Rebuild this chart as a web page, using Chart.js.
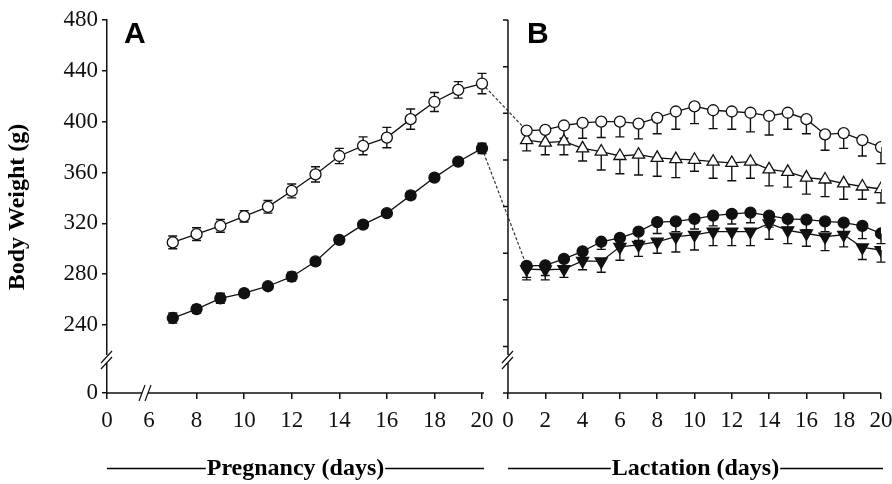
<!DOCTYPE html>
<html>
<head>
<meta charset="utf-8">
<script src="https://cdn.jsdelivr.net/npm/chart.js@4.4.1/dist/chart.umd.min.js"></script>
<style>body{margin:0;background:#fff}</style>
</head>
<body>
<canvas id="chart" width="892" height="484"></canvas>
<script>
// pregnancy (panel A)
const pregDays = [7, 8, 9, 10, 11, 12, 13, 14, 15, 16, 17, 18, 19, 20];
const pregOpen = [305, 311.5, 318, 325.5, 333, 345.5, 358.5, 373, 381, 387.5, 402, 415.5, 425, 430];
const pregOpenErr = [5, 5, 5, 4.5, 5, 5.5, 6, 6, 7, 8, 8, 7.5, 6.5, 8];
const pregFilled = [245.5, 252.5, 261, 265, 270.5, 278, 290, 307, 319, 328, 342, 356, 368.5, 379];
const pregFilledErr = [4, 3, 4, 3, 2.5, 3.5, 3, 2.5, 2.5, 2.5, 3, 2.5, 2.5, 4];

// lactation (panel B)
const lactDays = [1, 2, 3, 4, 5, 6, 7, 8, 9, 10, 11, 12, 13, 14, 15, 16, 17, 18, 19, 20];
const lactOpen = [393, 393.5, 397, 399, 400, 400, 398.5, 403, 408, 412, 409, 408, 407, 404.5, 407, 402, 390, 391, 385.5, 380];
const lactOpenErr = [10, 10, 10, 12, 12.5, 12, 12, 12.5, 14, 13.5, 14.5, 14, 15, 15, 13, 11.5, 12.5, 12, 12.5, 13];
const lactTri = [385.5, 383.5, 384.5, 379, 376.5, 373, 374, 371.5, 370.5, 370, 368.5, 367.5, 368.5, 362.5, 360.5, 356, 354.5, 351.5, 349, 347];
const lactTriErr = [8.5, 9.5, 10.5, 10, 14.5, 14, 16, 14.5, 14.5, 9, 13, 14, 13, 13, 12, 13, 13.5, 12.5, 10, 11];
const lactFilled = [286.5, 287, 292, 298, 305.5, 308.5, 313.5, 321, 321.5, 323.5, 326, 327.5, 328.5, 326, 323.5, 323, 321.5, 320.5, 318, 312];
const lactFilledErr = [9, 8, 7, 6, 6, 7, 7, 9, 8, 8, 8, 8, 8, 9, 8, 8, 8, 8, 10, 8];
const lactInv = [284, 283.5, 284, 290.5, 290, 301.5, 303, 305.5, 309.5, 311, 313.5, 313.5, 313.5, 320, 314.5, 312, 309.5, 311, 301, 299];
const lactInvErr = [8.5, 8, 6.5, 7, 8.5, 10.5, 9, 9, 12, 12, 11, 11, 11, 12.5, 10.5, 10, 11, 9.5, 9.5, 9.5];

// axes
const yTicks = [240, 280, 320, 360, 400, 440, 480];
const yZero = 186.5;      // where "0" sits below the axis break
const pregTicks = [6, 8, 10, 12, 14, 16, 18, 20];
const pregZero = 4.234;   // where "0" sits before the x break
const lactTicks = [0, 2, 4, 6, 8, 10, 12, 14, 16, 18, 20];

const serif = "'Liberation Serif', 'Times New Roman', serif";

function pts(days, vals) {
  return days.map((d, i) => ({x: d, y: vals[i]}));
}

function series(days, vals, axis, style, fill, rot) {
  return {
    data: pts(days, vals),
    xAxisID: axis,
    borderColor: '#111',
    borderWidth: 1.3,
    pointStyle: style,
    pointRotation: rot || 0,
    pointRadius: style === 'triangle' ? 7 : 5.5,
    pointBackgroundColor: fill,
    pointBorderColor: '#111',
    pointBorderWidth: 1.3,
    tension: 0
  };
}

const errorSets = [
  {axis: 'xA', days: pregDays, vals: pregOpen, err: pregOpenErr, both: true},
  {axis: 'xA', days: pregDays, vals: pregFilled, err: pregFilledErr, both: true},
  {axis: 'xB', days: lactDays, vals: lactOpen, err: lactOpenErr},
  {axis: 'xB', days: lactDays, vals: lactTri, err: lactTriErr},
  {axis: 'xB', days: lactDays, vals: lactFilled, err: lactFilledErr},
  {axis: 'xB', days: lactDays, vals: lactInv, err: lactInvErr}
];

function yBreak(ctx, x, yc) {
  ctx.fillStyle = '#fff';
  ctx.fillRect(x - 3, yc - 4, 6, 8);
  ctx.beginPath();
  ctx.moveTo(x - 6, yc + 4); ctx.lineTo(x + 5, yc - 8);
  ctx.moveTo(x - 6, yc + 10); ctx.lineTo(x + 5, yc - 2);
  ctx.stroke();
}

const decor = {
  id: 'decor',
  beforeDatasetsDraw(chart) {
    const ctx = chart.ctx, y = chart.scales.y;
    ctx.save();
    ctx.strokeStyle = '#111';
    ctx.lineWidth = 1.4;
    errorSets.forEach(s => {
      const xs = chart.scales[s.axis];
      s.days.forEach((d, i) => {
        const px = xs.getPixelForValue(d);
        const lo = y.getPixelForValue(s.vals[i] - s.err[i]);
        const hi = y.getPixelForValue(s.both ? s.vals[i] + s.err[i] : s.vals[i]);
        ctx.beginPath();
        ctx.moveTo(px, hi); ctx.lineTo(px, lo);
        ctx.moveTo(px - 4.5, lo); ctx.lineTo(px + 4.5, lo);
        if (s.both) { ctx.moveTo(px - 4.5, hi); ctx.lineTo(px + 4.5, hi); }
        ctx.stroke();
      });
    });
    // dashed links from end of pregnancy to day 1 of lactation
    const xa = chart.scales.xA, xb = chart.scales.xB;
    ctx.setLineDash([3, 2]);
    ctx.lineWidth = 1.2;
    ctx.strokeStyle = '#333';
    [[pregOpen, lactOpen], [pregFilled, lactFilled]].forEach(([a, b]) => {
      ctx.beginPath();
      ctx.moveTo(xa.getPixelForValue(pregDays[pregDays.length - 1]), y.getPixelForValue(a[a.length - 1]));
      ctx.lineTo(xb.getPixelForValue(lactDays[0]), y.getPixelForValue(b[0]));
      ctx.stroke();
    });
    ctx.restore();
  },
  afterDraw(chart) {
    const ctx = chart.ctx, y = chart.scales.y, area = chart.chartArea;
    const xa = chart.scales.xA, xb = chart.scales.xB;
    const base = y.getPixelForValue(yZero);
    const bx = xb.getPixelForValue(0);
    const aEnd = xa.getPixelForValue(20) + 2;
    ctx.save();
    ctx.strokeStyle = '#111';
    ctx.lineWidth = 1.5;
    ctx.beginPath();
    // x axis lines
    ctx.moveTo(area.left, base); ctx.lineTo(aEnd, base);
    ctx.moveTo(bx, base); ctx.lineTo(area.right, base);
    // panel B y axis
    ctx.moveTo(bx, area.top); ctx.lineTo(bx, base);
    for (let k = 0; k < 8; k++) {
      const ty = area.top + k * (base - area.top) / 8;
      ctx.moveTo(bx - 5, ty); ctx.lineTo(bx, ty);
    }
    ctx.moveTo(bx - 5, base); ctx.lineTo(bx, base);
    ctx.stroke();

    // breaks
    const brY = (y.getPixelForValue(240) + base) / 2;
    ctx.lineWidth = 1.2;
    yBreak(ctx, area.left, brY);
    yBreak(ctx, bx, brY);
    const gx = xa.getPixelForValue(6) - 3;
    ctx.fillStyle = '#fff';
    ctx.fillRect(gx - 4, base - 3, 6, 6);
    ctx.beginPath();
    ctx.moveTo(gx - 7, base + 8); ctx.lineTo(gx - 1, base - 8);
    ctx.moveTo(gx - 1, base + 8); ctx.lineTo(gx + 5, base - 8);
    ctx.stroke();

    // panel letters
    ctx.fillStyle = '#000';
    ctx.font = "bold 30px 'Liberation Sans', Arial, sans-serif";
    ctx.textBaseline = 'alphabetic';
    ctx.textAlign = 'left';
    ctx.fillText('A', 124, 43);
    ctx.fillText('B', 527, 43);

    // y title
    ctx.font = 'bold 24px ' + serif;
    ctx.textAlign = 'center';
    ctx.textBaseline = 'middle';
    ctx.save();
    ctx.translate(18, 207);
    ctx.rotate(-Math.PI / 2);
    ctx.fillText('Body Weight (g)', 0, 0);
    ctx.restore();

    // bottom titles with rules
    const ty = 468.5;
    ctx.lineWidth = 1.5;
    ctx.strokeStyle = '#000';
    [['Pregnancy (days)', area.left, aEnd], ['Lactation (days)', bx, area.right + 2]].forEach(([t, l, r]) => {
      const w = ctx.measureText(t).width;
      const c = (l + r) / 2;
      ctx.fillText(t, c, ty);
      ctx.beginPath();
      ctx.moveTo(l, ty); ctx.lineTo(c - w / 2 - 1, ty);
      ctx.moveTo(c + w / 2 + 1, ty); ctx.lineTo(r, ty);
      ctx.stroke();
    });
    ctx.restore();
  }
};

const xAxis = (min, max, ticks, label) => ({
  type: 'linear',
  position: {y: yZero},
  min: min,
  max: max,
  afterBuildTicks: s => { s.ticks = ticks.map(v => ({value: v})); },
  afterFit: s => { s.paddingLeft = 0; s.paddingRight = 0; },
  border: {display: false},
  grid: {
    drawOnChartArea: false, drawTicks: true, tickLength: 6, lineWidth: 1.5, color: '#111',
    // the break mark replaces the tick at pregnancy day 6
    tickColor: c => (c.scale.id === 'xA' && c.tick && c.tick.value === 6) ? 'rgba(0,0,0,0)' : '#111'
  },
  ticks: {
    autoSkip: false, maxRotation: 0, padding: 8, color: '#111',
    font: {family: serif, size: 23},
    callback: label
  }
});

new Chart(document.getElementById('chart'), {
  type: 'line',
  data: {
    datasets: [
      series(pregDays, pregOpen, 'xA', 'circle', '#fff'),
      series(pregDays, pregFilled, 'xA', 'circle', '#111'),
      series(lactDays, lactOpen, 'xB', 'circle', '#fff'),
      series(lactDays, lactTri, 'xB', 'triangle', '#fff'),
      series(lactDays, lactFilled, 'xB', 'circle', '#111'),
      series(lactDays, lactInv, 'xB', 'triangle', '#111', 180)
    ]
  },
  options: {
    responsive: false,
    animation: false,
    devicePixelRatio: 1,
    layout: {padding: {top: 20, right: 11, bottom: 91, left: 0}},
    plugins: {legend: {display: false}, tooltip: {enabled: false}},
    scales: {
      xA: xAxis(pregZero, 36.775, [pregZero].concat(pregTicks), v => v < 5 ? '0' : v),
      xB: xAxis(-21.5, 20, lactTicks, v => v),
      y: {
        type: 'linear',
        min: yZero,
        max: 480,
        afterBuildTicks: s => { s.ticks = [yZero].concat(yTicks).map(v => ({value: v})); },
        afterFit: s => { s.width = 107; },
        border: {display: true, color: '#111', width: 1.5},
        grid: {drawOnChartArea: false, drawTicks: true, tickLength: 5, color: '#111', lineWidth: 1.5},
        ticks: {
          padding: 4, color: '#111',
          font: {family: serif, size: 23},
          callback: v => v < 200 ? '0' : v
        }
      }
    }
  },
  plugins: [decor]
});
</script>
</body>
</html>
